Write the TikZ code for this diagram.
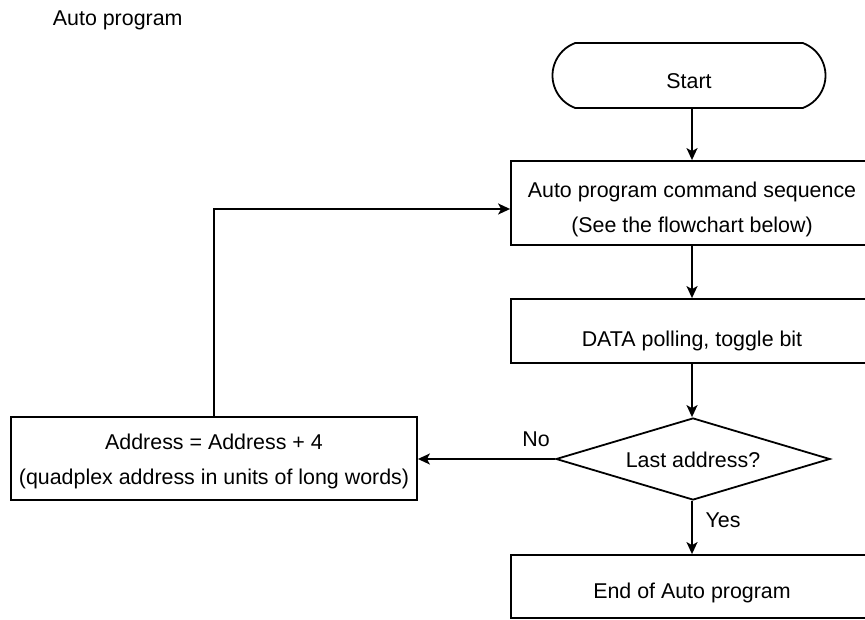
\documentclass[tikz,border=0pt]{standalone}
\usepackage{fontspec}
\setmainfont{Liberation Sans}
\usetikzlibrary{shapes.geometric,shapes.misc,arrows.meta}

\begin{document}
\begin{tikzpicture}[x=1pt,y=-1pt,line width=1.8pt,
  every node/.style={font=\fontsize{21.4}{35}\selectfont},
  box/.style={draw,rectangle,inner sep=0pt,align=center,minimum width=362pt},
  term/.style={draw,rounded rectangle,rounded rectangle arc length=140,
    minimum width=273pt,minimum height=65pt,inner sep=0pt},
  decision/.style={draw,diamond,aspect=3.34,inner sep=0pt,
    minimum width=274pt,minimum height=82pt},
  arr/.style={-{Stealth[length=12pt,width=11pt,inset=3pt]}},
  lbl/.style={inner sep=0pt}]
\clip (0,0) rectangle (865,620);

\node[lbl,anchor=base west] (title) at (52,26) {Auto program};

\node[term,text height=25.3pt,text depth=0pt] (start) at (689,75.5) {Start};
\node[box,minimum height=84pt] (seq) at (692,203)
  {\rule{0pt}{27.6pt}Auto program command sequence\\(See the flowchart below)};
\node[box,minimum height=64pt,text height=31pt,text depth=0pt] (poll)
  at (692,331) {DATA polling, toggle bit};
\node[decision,text height=17.3pt,text depth=0pt] (last) at (693,459)
  {Last address?};
\node[box,minimum height=63pt,text height=24pt,text depth=0pt] (done)
  at (692,586.5) {End of Auto program};
\node[box,minimum width=406pt,minimum height=83pt] (addr) at (214,458.5)
  {\rule{0pt}{21.6pt}Address = Address + 4\\(quadplex address in units of long words)};

\draw[arr] (start.south -| poll.north) -- (seq.north);
\draw[arr] (seq.south) -- (poll.north);
\draw[arr] (poll.south) -- (last.north -| poll.south);
\draw[arr] (last.south -| done.north) -- (done.north);
\draw[arr] (last.west) -- (addr.east |- last.west);
\draw[arr] (addr.north) |- ([yshift=-6pt]seq.west);

\node[lbl] (no) at (536,439) {No};
\node[lbl] (yes) at (723,520) {Yes};
\end{tikzpicture}
\end{document}
